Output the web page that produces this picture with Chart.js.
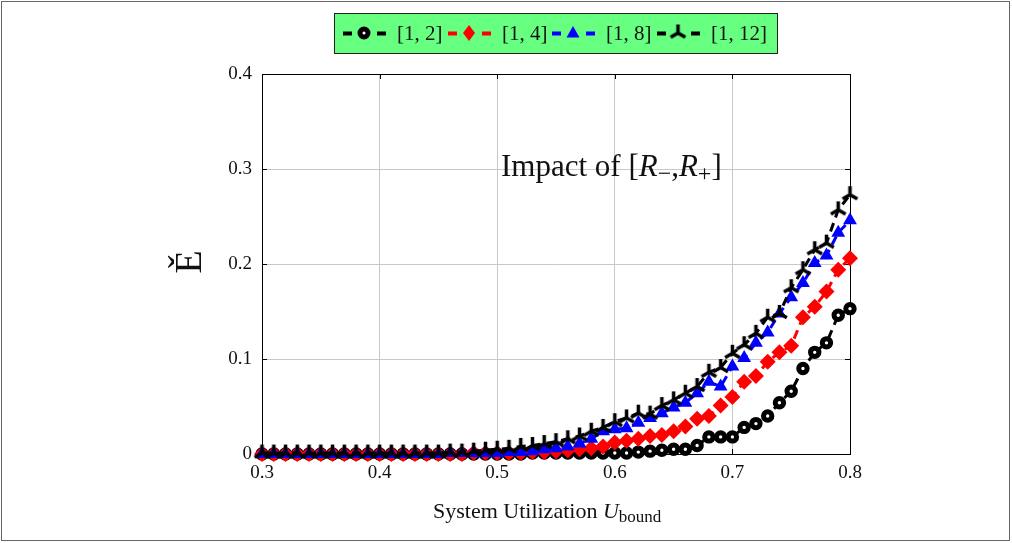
<!DOCTYPE html>
<html>
<head>
<meta charset="utf-8">
<script src="https://cdn.jsdelivr.net/npm/chart.js@4.4.1/dist/chart.umd.min.js"></script>
<style>
  html, body { margin: 0; padding: 0; background: #fff; }
  #wrap { position: relative; width: 1012px; height: 543px; }
</style>
</head>
<body>
<div id="wrap"><canvas id="chart" width="1012" height="543"></canvas></div>
<script>
// x 값 (시스템 이용률)
const X_VALUES = [
  0.30, 0.31, 0.32, 0.33, 0.34, 0.35, 0.36, 0.37, 0.38, 0.39,
  0.40, 0.41, 0.42, 0.43, 0.44, 0.45, 0.46, 0.47, 0.48, 0.49,
  0.50, 0.51, 0.52, 0.53, 0.54, 0.55, 0.56, 0.57, 0.58, 0.59,
  0.60, 0.61, 0.62, 0.63, 0.64, 0.65, 0.66, 0.67, 0.68, 0.69,
  0.70, 0.71, 0.72, 0.73, 0.74, 0.75, 0.76, 0.77, 0.78, 0.79, 0.80,
];

// [1,2]
const Y_R2 = [
  0, 0, 0, 0, 0, 0, 0, 0, 0, 0,
  0, 0, 0, 0, 0, 0, 0, 0, 0, 0,
  0, 0, 0, 0.001, 0.001, 0.001, 0.001, 0.001, 0.001, 0.001,
  0.001, 0.001, 0.002, 0.003, 0.004, 0.005, 0.005, 0.009, 0.018, 0.018,
  0.018, 0.028, 0.032, 0.040, 0.054, 0.066, 0.090, 0.107, 0.117, 0.146, 0.153,
];

// [1,4]
const Y_R4 = [
  0, 0, 0, 0, 0, 0, 0, 0, 0, 0,
  0, 0, 0, 0, 0, 0, 0, 0, 0.001, 0.001,
  0.001, 0.001, 0.001, 0.002, 0.002, 0.003, 0.004, 0.005, 0.006, 0.008,
  0.012, 0.014, 0.016, 0.019, 0.020, 0.024, 0.029, 0.037, 0.040, 0.051,
  0.060, 0.076, 0.082, 0.097, 0.107, 0.114, 0.144, 0.155, 0.171, 0.194, 0.206,
];

// [1,8]
const Y_R8 = [
  0, 0, 0, 0, 0, 0, 0, 0, 0, 0,
  0, 0, 0, 0, 0, 0, 0.001, 0.001, 0.001, 0.001,
  0.001, 0.002, 0.002, 0.003, 0.005, 0.006, 0.008, 0.011, 0.016, 0.024,
  0.026, 0.027, 0.033, 0.038, 0.043, 0.049, 0.054, 0.064, 0.076, 0.071,
  0.092, 0.101, 0.117, 0.128, 0.148, 0.165, 0.180, 0.201, 0.209, 0.233, 0.246,
];

// [1,12]
const Y_R12 = [
  0.001, 0.001, 0.001, 0.001, 0.001, 0.001, 0.001, 0.001, 0.001, 0.001,
  0.001, 0.001, 0.001, 0.001, 0.001, 0.001, 0.002, 0.002, 0.003, 0.004,
  0.005, 0.006, 0.008, 0.009, 0.011, 0.013, 0.016, 0.019, 0.024, 0.028,
  0.034, 0.038, 0.043, 0.042, 0.051, 0.057, 0.064, 0.071, 0.086, 0.091,
  0.106, 0.115, 0.127, 0.144, 0.148, 0.175, 0.194, 0.215, 0.222, 0.257, 0.273,
];

const SERIES_LABELS = ['[1, 2]', '[1, 4]', '[1, 8]', '[1, 12]'];
const X_TICKS = [0.3, 0.4, 0.5, 0.6, 0.7, 0.8];
const Y_TICKS = [0, 0.1, 0.2, 0.3, 0.4];

const SERIF = '"Liberation Serif", "DejaVu Serif", serif';
const COLORS = { r2: '#000000', r4: '#ff0000', r8: '#0000ff', r12: '#000000', legendBg: '#66ff80' };

/** [1,12] 마커 — 세 갈래 모양 */
function makeTriMark(size, lw) {
  const c = document.createElement('canvas');
  c.width = size; c.height = size;
  const g = c.getContext('2d');
  const m = size / 2;
  const r = m - 1;
  g.strokeStyle = '#000';
  g.lineWidth = lw;
  g.beginPath();
  g.moveTo(m, m); g.lineTo(m, m - r);
  g.moveTo(m, m); g.lineTo(m - r * 0.866, m + r * 0.5);
  g.moveTo(m, m); g.lineTo(m + r * 0.866, m + r * 0.5);
  g.stroke();
  return c;
}
const TRI_MARK = makeTriMark(19, 3.5);

function toPoints(ys) {
  return X_VALUES.map((x, i) => ({ x, y: ys[i] }));
}

function lineDataset(label, ys, color, extra) {
  return Object.assign({
    label,
    data: toPoints(ys),
    borderColor: color,
    backgroundColor: color,
    borderWidth: 3,
    borderDash: [9, 6],
    pointBorderColor: color,
    pointBackgroundColor: color,
    tension: 0,
    clip: false,
  }, extra);
}

/** 여러 글꼴 조각을 이어서 쓰기 */
function drawRuns(ctx, x, y, runs) {
  runs.forEach(([t, st, sz, dy]) => {
    ctx.font = `${st} ${sz}px ${SERIF}`;
    ctx.fillText(t, x, y + dy);
    x += ctx.measureText(t).width;
  });
}

/** 액자, 범례, 제목 등 장식 */
const decorPlugin = {
  id: 'decor',
  beforeDatasetsDraw(chart) {
    const { ctx, chartArea: a, scales } = chart;
    ctx.save();
    ctx.strokeStyle = '#000';
    ctx.lineWidth = 1;
    // 안쪽 눈금
    ctx.beginPath();
    Y_TICKS.forEach((v) => {
      const y = Math.round(scales.y.getPixelForValue(v)) + 0.5;
      ctx.moveTo(a.left, y); ctx.lineTo(a.left + 5, y);
      ctx.moveTo(a.right, y); ctx.lineTo(a.right - 5, y);
    });
    X_TICKS.forEach((v) => {
      const x = Math.round(scales.x.getPixelForValue(v)) + 0.5;
      ctx.moveTo(x, a.bottom); ctx.lineTo(x, a.bottom - 5);
      ctx.moveTo(x, a.top); ctx.lineTo(x, a.top + 5);
    });
    ctx.stroke();
    ctx.strokeRect(Math.round(a.left) + 0.5, Math.round(a.top) + 0.5,
      Math.round(a.right - a.left), Math.round(a.bottom - a.top));
    ctx.restore();
  },
  afterDraw(chart) {
    const { ctx } = chart;
    ctx.save();
    // 바깥 액자
    ctx.strokeStyle = '#666';
    ctx.lineWidth = 1;
    ctx.strokeRect(1.5, 1.5, 1008, 539);

    // 범례
    ctx.fillStyle = COLORS.legendBg;
    ctx.fillRect(334, 13, 443, 40);
    ctx.strokeStyle = '#222';
    ctx.strokeRect(334.5, 13.5, 443, 40);
    const cy = 33;
    const starts = [343, 448, 552, 657];
    const colors = [COLORS.r2, COLORS.r4, COLORS.r8, COLORS.r12];
    starts.forEach((sx, i) => {
      ctx.fillStyle = colors[i];
      ctx.fillRect(sx, cy - 1.5, 9, 4);
      ctx.fillRect(sx + 34, cy - 1.5, 9, 4);
      const mx = sx + 21;
      if (i === 0) {
        ctx.beginPath();
        ctx.arc(mx, cy, 4, 0, Math.PI * 2);
        ctx.fillStyle = '#fff';
        ctx.fill();
        ctx.lineWidth = 5;
        ctx.strokeStyle = '#000';
        ctx.stroke();
      } else if (i === 1) {
        ctx.beginPath();
        ctx.moveTo(mx, cy - 8); ctx.lineTo(mx + 6, cy);
        ctx.lineTo(mx, cy + 8); ctx.lineTo(mx - 6, cy);
        ctx.closePath();
        ctx.fill();
      } else if (i === 2) {
        ctx.beginPath();
        ctx.moveTo(mx, cy - 7); ctx.lineTo(mx + 6.5, cy + 4.5);
        ctx.lineTo(mx - 6.5, cy + 4.5);
        ctx.closePath();
        ctx.fill();
      } else {
        ctx.drawImage(TRI_MARK, mx - 9.5, cy - 9.5);
      }
      ctx.fillStyle = '#111';
      ctx.font = `21px ${SERIF}`;
      ctx.textBaseline = 'middle';
      ctx.textAlign = 'left';
      ctx.fillText(SERIES_LABELS[i], sx + 54, cy + 1);
    });

    // 그래프 안 제목
    ctx.fillStyle = '#111';
    ctx.textBaseline = 'alphabetic';
    drawRuns(ctx, 501, 176, [
      ['Impact of [', 'normal', 31, 0],
      ['R', 'italic', 31, 0],
      ['\u2212', 'normal', 24, 5],
      [',', 'normal', 31, 0],
      ['R', 'italic', 31, 0],
      ['+', 'normal', 24, 5],
      [']', 'normal', 31, 0],
    ]);

    // x축 제목
    drawRuns(ctx, 433, 518, [
      ['System Utilization ', 'normal', 22, 0],
      ['U', 'italic', 22, 0],
      ['bound', 'normal', 17, 4],
    ]);

    // y축 제목
    ctx.translate(189, 262);
    ctx.rotate(-Math.PI / 2);
    ctx.font = `38px ${SERIF}`;
    ctx.textAlign = 'center';
    ctx.textBaseline = 'middle';
    ctx.fillText('\u011A', 0, 2);
    ctx.restore();
  },
};

new Chart(document.getElementById('chart'), {
  type: 'line',
  data: {
    datasets: [
      lineDataset(SERIES_LABELS[0], Y_R2, COLORS.r2, {
        pointStyle: 'circle', pointRadius: 4.2, pointHoverRadius: 4.2,
        pointBackgroundColor: '#fff', pointBorderWidth: 5, order: 4,
      }),
      lineDataset(SERIES_LABELS[1], Y_R4, COLORS.r4, {
        pointStyle: 'rectRot', pointRadius: 8, pointHoverRadius: 8, pointBorderWidth: 0, order: 3,
      }),
      lineDataset(SERIES_LABELS[2], Y_R8, COLORS.r8, {
        pointStyle: 'triangle', pointRadius: 8, pointHoverRadius: 8, pointBorderWidth: 0, order: 2,
      }),
      lineDataset(SERIES_LABELS[3], Y_R12, COLORS.r12, {
        pointStyle: TRI_MARK, pointRadius: 9, order: 1,
      }),
    ],
  },
  options: {
    responsive: false,
    animation: false,
    layout: { padding: { top: 74, right: 162, bottom: 0, left: 0 } },
    plugins: {
      legend: { display: false },
      tooltip: { enabled: false },
    },
    scales: {
      x: {
        type: 'linear',
        min: 0.3,
        max: 0.8,
        afterBuildTicks: (s) => { s.ticks = X_TICKS.map((v) => ({ value: v })); },
        afterFit: (s) => { s.height = 89; },
        grid: { color: '#c8c8c8', lineWidth: 1, drawTicks: false },
        border: { color: '#000' },
        ticks: {
          color: '#111',
          padding: 8,
          maxRotation: 0,
          font: { family: SERIF, size: 19 },
          callback: (v) => v.toFixed(1),
        },
      },
      y: {
        min: 0,
        max: 0.4,
        afterBuildTicks: (s) => { s.ticks = Y_TICKS.map((v) => ({ value: v })); },
        afterFit: (s) => { s.width = 262; },
        grid: { color: '#c8c8c8', lineWidth: 1, drawTicks: false },
        border: { color: '#000' },
        ticks: {
          color: '#111',
          padding: 10,
          font: { family: SERIF, size: 19 },
          callback: (v) => (v === 0 ? '0' : v.toFixed(1)),
        },
      },
    },
  },
  plugins: [decorPlugin],
});
</script>
</body>
</html>
